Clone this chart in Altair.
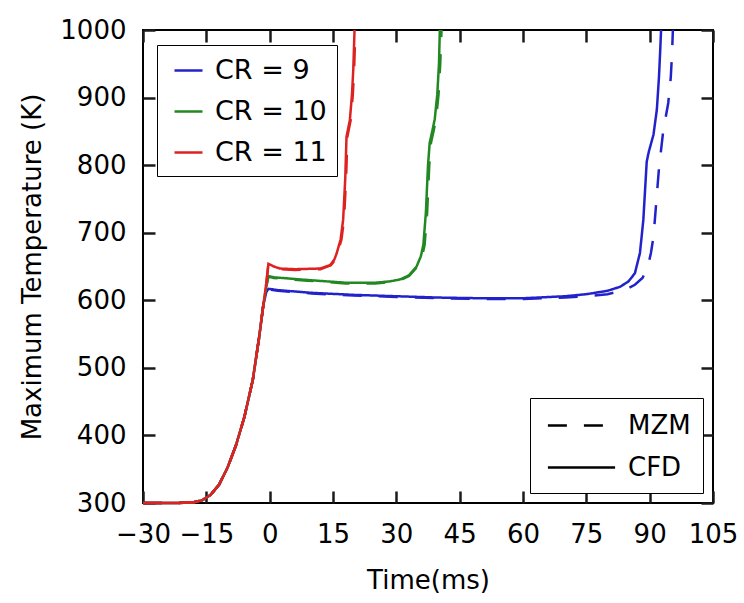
import altair as alt
import pandas as pd

# ---------------- data ----------------
t_comp = [-30, -22, -18, -16, -14, -12, -10, -8, -6, -4, -2.5, -1.5]
T_comp = [300, 300, 301, 304, 312, 327, 352, 385, 427, 482, 545, 593]

t_cr9_cfd = [-0.8, -0.3, 2, 10, 20, 30, 40, 50, 60, 70, 75, 80, 83, 85, 86.5, 87.7, 88.5, 89.3, 89.8, 90.9, 91.7, 92.2, 92.5, 92.7]
T_cr9_cfd = [612, 617, 615, 611, 608, 606, 604, 603, 603, 606, 609, 614, 620, 628, 640, 670, 719, 805, 820, 845, 882, 930, 970, 1000]

t_cr9_mzm = [-0.8, -0.3, 2, 10, 20, 30, 40, 50, 60, 70, 75, 80, 84, 86.5, 88.3, 89.5, 90.3, 90.9, 91.5, 92.2, 93.2, 94.4, 95.0, 95.3, 95.5]
T_cr9_mzm = [612, 616, 614, 610, 607, 605, 603, 602, 602, 604, 606, 609, 615, 623, 633, 648, 670, 694, 740, 795, 850, 892, 930, 965, 1000]

t_cr10_cfd = [-0.8, -0.3, 1, 5, 9, 18, 25, 28.5, 31, 33, 34.8, 35.8, 36.4, 37.0, 37.5, 37.9, 38.5, 39.1, 39.7, 40.1, 40.3]
T_cr10_cfd = [620, 636, 634, 632, 630, 626, 626, 628, 631, 637, 650, 665, 682, 730, 800, 833, 850, 868, 905, 950, 1000]

t_cr10_mzm = [-0.8, -0.3, 1, 5, 9, 18, 25, 28.5, 31, 33, 35.0, 36.1, 36.7, 37.3, 37.8, 38.2, 38.8, 39.4, 40.0, 40.4, 40.7]
T_cr10_mzm = [620, 635, 633, 631, 629, 625, 625, 627, 630, 636, 650, 665, 682, 730, 800, 833, 850, 868, 905, 950, 1000]

t_cr11_cfd = [-0.8, -0.3, 1, 2.4, 6, 12, 14.3, 15.3, 15.9, 16.8, 17.4, 17.9, 18.2, 19.0, 19.5, 19.8, 20.1]
T_cr11_cfd = [625, 654, 650, 647, 646, 647, 652, 660, 670, 690, 719, 780, 842, 867, 905, 941, 1000]

t_cr11_mzm = [-0.8, -0.3, 1, 2.4, 6, 12, 14.5, 15.5, 16.1, 17.0, 17.6, 18.1, 18.4, 19.2, 19.7, 20.0, 20.3]
T_cr11_mzm = [625, 653, 649, 646, 645, 646, 652, 660, 670, 690, 719, 780, 842, 867, 905, 941, 1000]

cr_labels = ["CR = 9", "CR = 10", "CR = 11"]
cr_colors = ["#2222cc", "#228822", "#dd2222"]
models = ["MZM", "CFD"]

x_ticks = [-30, -15, 0, 15, 30, 45, 60, 75, 90, 105]
y_ticks = [300, 400, 500, 600, 700, 800, 900, 1000]

# ---------------- build table ----------------
series = [
    ("CR = 9", "MZM", t_cr9_mzm, T_cr9_mzm),
    ("CR = 9", "CFD", t_cr9_cfd, T_cr9_cfd),
    ("CR = 10", "MZM", t_cr10_mzm, T_cr10_mzm),
    ("CR = 10", "CFD", t_cr10_cfd, T_cr10_cfd),
    ("CR = 11", "MZM", t_cr11_mzm, T_cr11_mzm),
    ("CR = 11", "CFD", t_cr11_cfd, T_cr11_cfd),
]
rows = []
for cr, model, ts, Ts in series:
    for t, T in zip(t_comp + ts, T_comp + Ts):
        rows.append({"cr": cr, "model": model, "t": t, "T": T})
df = pd.DataFrame(rows)

FONT = "DejaVu Sans"
TICK = 12
TICK_COLOR = "#1a1a1a"
TICK_W = 2.5
xscale = alt.Scale(domain=[x_ticks[0], x_ticks[-1]], nice=False, zero=False)
yscale = alt.Scale(domain=[y_ticks[0], y_ticks[-1]], nice=False, zero=False)

lines = alt.Chart(df).mark_line(strokeWidth=2.5).encode(
    x=alt.X("t:Q", scale=xscale,
            axis=alt.Axis(values=x_ticks, title="Time(ms)", format="d", labelOverlap=False, labelFlush=False,
                          ticks=True, offset=-TICK, tickSize=TICK, tickWidth=TICK_W, tickColor=TICK_COLOR,
                          labelPadding=18, titlePadding=20)),
    y=alt.Y("T:Q", scale=yscale,
            axis=alt.Axis(values=y_ticks, title="Maximum Temperature (K)", format="d", labelOverlap=False,
                          labelFlush=False, ticks=True, offset=-TICK, tickSize=TICK, tickWidth=TICK_W,
                          tickColor=TICK_COLOR, labelPadding=17, titlePadding=14)),
    color=alt.Color("cr:N", title=None,
                    scale=alt.Scale(domain=cr_labels, range=cr_colors),
                    legend=alt.Legend(orient="none", legendX=14, legendY=15, symbolType="stroke",
                                      symbolSize=784, symbolStrokeWidth=2.5, symbolOffset=6,
                                      labelOffset=11, rowPadding=12, padding=10,
                                      labelFontSize=27, labelFont=FONT, labelColor="black",
                                      strokeColor="black", fillColor="white")),
    strokeDash=alt.StrokeDash("model:N", title=None,
                              scale=alt.Scale(domain=models, range=[[19, 17], [1, 0]]),
                              legend=alt.Legend(orient="none", legendX=387, legendY=368,
                                                symbolType="M-2.4,0H2.4", symbolSize=784,
                                                symbolStrokeWidth=2.5, symbolStrokeColor="black",
                                                symbolOffset=24, labelOffset=31, rowPadding=13, padding=12,
                                                labelFontSize=26, labelFont=FONT, labelColor="black",
                                                strokeColor="black", fillColor="white")),
)

# mirrored tick-only axes on top and right (inward ticks, no labels)
mirror = alt.Chart(df).mark_line(opacity=0).encode(
    x=alt.X("t:Q", scale=xscale,
            axis=alt.Axis(values=x_ticks, orient="top", labels=False, title=None, offset=-TICK,
                          ticks=True, tickSize=TICK, tickWidth=TICK_W, tickColor=TICK_COLOR)),
    y=alt.Y("T:Q", scale=yscale,
            axis=alt.Axis(values=y_ticks, orient="right", labels=False, title=None, offset=-TICK,
                          ticks=True, tickSize=TICK, tickWidth=TICK_W, tickColor=TICK_COLOR)),
)

chart = alt.layer(lines, mirror).resolve_axis(x="independent", y="independent").properties(
    width=570, height=473,
    autosize=alt.AutoSizeParams(type="none"),
    padding={"left": 143, "top": 30, "right": 31, "bottom": 100},
).configure_view(
    stroke="black", strokeWidth=2
).configure_axis(
    grid=False, domain=False,
    labelFont=FONT, labelFontSize=26, labelColor="black",
    titleFont=FONT, titleFontSize=26, titleColor="black", titleFontWeight="normal",
)

chart.save("out.html", embed_options={"renderer": "svg", "actions": False})
